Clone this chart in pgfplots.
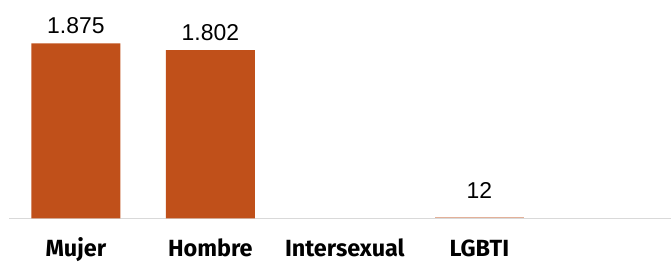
\documentclass[border=0pt]{standalone}
\usepackage{pgfplots}
\pgfplotsset{compat=1.18}
\usepackage{fontspec}
\setmainfont{Fira Sans}
\newfontfamily\valfont{Liberation Sans}
\definecolor{barc}{HTML}{C0501A}
\definecolor{axc}{HTML}{D9D9D9}
\begin{document}
\begin{tikzpicture}
\begin{axis}[
 at={(0,0)}, anchor=south west,
 width=662bp, height=218.3bp, scale only axis,
 xmin=-0.497, xmax=4.425, ymin=0, ymax=2339,
 axis x line=bottom, axis y line=none,
 axis line style={axc, line width=1bp, -},
 xtick={0,1,2,3}, xticklabels={Mujer,Hombre,Intersexual,LGBTI},
 major tick length=0pt,
 xticklabel style={font=\fontsize{23.5}{27}\selectfont\bfseries, anchor=base, yshift=-38bp},
 ybar, bar width=89bp, bar shift=0pt,
 clip=false,
 point meta=explicit symbolic,
 nodes near coords,
 every node near coord/.append style={font=\valfont\fontsize{23}{27}\selectfont, anchor=base, text=black},
]
\addplot[fill=barc, draw=none, every node near coord/.append style={yshift=10bp}]
  coordinates {(0,1875) [1.875] (1,1802) [1.802]};
\addplot[fill=barc!45!white, draw=none, every node near coord/.append style={yshift=18.5bp}]
  coordinates {(3,12) [12]};
\end{axis}
\pgfresetboundingbox
\path[use as bounding box] (-9bp,-43.7bp) rectangle (662bp,218.3bp);
\end{tikzpicture}
\end{document}
